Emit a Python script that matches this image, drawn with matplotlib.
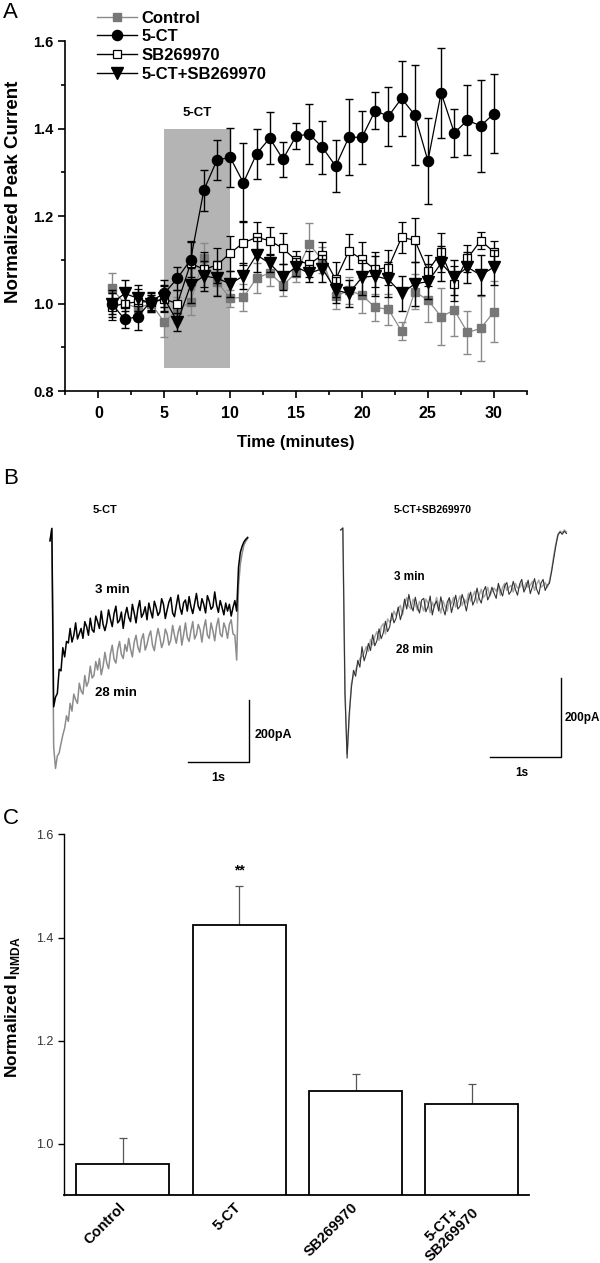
import numpy as np
import matplotlib.pyplot as plt
from matplotlib.lines import Line2D
from matplotlib.patches import Rectangle
from matplotlib.ticker import AutoMinorLocator, MultipleLocator

plt.rcParams['font.family'] = ['Liberation Sans', 'DejaVu Sans']
plt.rcParams['font.weight'] = 'bold'
plt.rcParams['axes.labelweight'] = 'bold'
plt.rcParams['mathtext.fontset'] = 'custom'
plt.rcParams['mathtext.rm'] = 'Liberation Sans:bold'
plt.rcParams['mathtext.bf'] = 'Liberation Sans:bold'

############## Panel A: normalized peak current over time ##############
minutes = list(range(1, 31))
control = [1.035, 1.00, 0.99, 1.00, 0.958, 0.985, 1.004, 1.103, 1.050, 1.012,
           1.014, 1.058, 1.07, 1.042, 1.07, 1.136, 1.099, 1.017, 1.03, 1.019,
           0.991, 0.987, 0.937, 1.027, 1.008, 0.970, 0.985, 0.934, 0.943, 0.981]
control_err = [0.035, 0.03, 0.03, 0.02, 0.035, 0.03, 0.03, 0.035, 0.03, 0.02,
               0.03, 0.035, 0.03, 0.025, 0.02, 0.048, 0.03, 0.03, 0.03, 0.04,
               0.03, 0.035, 0.02, 0.04, 0.05, 0.065, 0.06, 0.05, 0.075, 0.07]
ct = [1.00, 0.964, 0.970, 1.006, 1.023, 1.058, 1.10, 1.259, 1.328, 1.334,
      1.276, 1.342, 1.378, 1.330, 1.383, 1.387, 1.357, 1.314, 1.380, 1.380,
      1.441, 1.428, 1.469, 1.431, 1.326, 1.482, 1.390, 1.419, 1.406, 1.434]
ct_err = [0.03, 0.02, 0.03, 0.02, 0.03, 0.026, 0.04, 0.047, 0.046, 0.068,
          0.09, 0.058, 0.06, 0.04, 0.03, 0.068, 0.06, 0.06, 0.087, 0.06,
          0.043, 0.068, 0.086, 0.114, 0.098, 0.103, 0.055, 0.08, 0.105, 0.09]
sb = [0.993, 1.00, 1.004, 1.004, 1.01, 1.00, 1.092, 1.078, 1.088, 1.115,
      1.139, 1.151, 1.144, 1.126, 1.099, 1.090, 1.111, 1.055, 1.120, 1.101,
      1.078, 1.082, 1.151, 1.145, 1.075, 1.117, 1.045, 1.103, 1.144, 1.118]
sb_err = [0.03, 0.03, 0.03, 0.02, 0.03, 0.03, 0.05, 0.04, 0.04, 0.04,
          0.05, 0.035, 0.03, 0.035, 0.02, 0.03, 0.03, 0.04, 0.04, 0.04,
          0.04, 0.04, 0.036, 0.05, 0.035, 0.045, 0.04, 0.03, 0.02, 0.025]
ct_sb = [1.00, 1.023, 1.012, 1.00, 1.012, 0.958, 1.042, 1.063, 1.058, 1.045,
         1.063, 1.111, 1.092, 1.060, 1.084, 1.069, 1.080, 1.031, 1.023, 1.060,
         1.063, 1.055, 1.023, 1.045, 1.050, 1.092, 1.060, 1.083, 1.065, 1.083]
ct_sb_err = [0.025, 0.03, 0.03, 0.02, 0.03, 0.02, 0.04, 0.035, 0.04, 0.03,
             0.03, 0.04, 0.02, 0.03, 0.02, 0.02, 0.03, 0.03, 0.03, 0.04,
             0.045, 0.04, 0.04, 0.05, 0.04, 0.04, 0.04, 0.035, 0.045, 0.04]
drug_on, drug_off = 5, 10   # 5-CT application window (min)

############## Panel B: example NMDA currents (pA), sampled every trace_dt s ##############
trace_dt = 0.03
ct_3min = [-35, 5, -571, -540, -528, -450, -455, -380, -410, -360, -365, -318,
           -362, -340, -300, -352, -335, -318, -350, -296, -312, -340, -285, -322,
           -330, -278, -296, -318, -262, -305, -325, -300, -258, -288, -312, -270,
           -246, -300, -292, -265, -318, -275, -250, -282, -296, -240, -268, -300,
           -255, -228, -282, -270, -248, -290, -236, -262, -284, -230, -250, -276,
           -265, -222, -240, -286, -258, -232, -218, -268, -280, -244, -210, -250,
           -272, -235, -226, -262, -215, -248, -270, -238, -205, -246, -260, -222,
           -240, -268, -212, -230, -256, -248, -200, -242, -266, -228, -250, -274,
           -236, -262, -240, -278, -250, -228, -262, -120, -72, -52, -38, -30, -24]
ct_28min = [-35, 5, -700, -770, -730, -720, -690, -662, -640, -600, -618, -560,
            -585, -530, -548, -560, -495, -520, -530, -470, -505, -490, -440, -478,
            -470, -425, -452, -415, -468, -440, -395, -430, -448, -400, -372, -418,
            -430, -385, -360, -402, -415, -370, -392, -350, -385, -410, -362, -340,
            -378, -395, -352, -335, -388, -370, -342, -326, -372, -390, -350, -318,
            -345, -380, -362, -320, -336, -372, -355, -308, -340, -366, -330, -310,
            -372, -338, -300, -346, -360, -325, -296, -352, -338, -305, -322, -362,
            -318, -290, -340, -350, -300, -326, -358, -310, -285, -336, -345, -300,
            -318, -350, -305, -290, -336, -340, -420, -180, -110, -75, -48, -36, -28]
ctsb_3min = [-5, 0, -420, -582, -470, -405, -360, -375, -335, -352, -300, -336,
             -318, -292, -310, -270, -298, -285, -255, -280, -265, -236, -262, -250,
             -215, -240, -228, -200, -232, -212, -180, -205, -168, -196, -210, -175,
             -200, -215, -182, -178, -212, -198, -172, -220, -195, -185, -210, -174,
             -202, -220, -188, -176, -214, -192, -170, -205, -198, -168, -186, -210,
             -180, -162, -195, -182, -152, -178, -190, -160, -148, -182, -170, -150,
             -165, -178, -140, -158, -172, -146, -138, -168, -160, -135, -155, -170,
             -142, -130, -162, -150, -132, -166, -148, -128, -155, -168, -140, -130,
             -158, -145, -140, -110, -78, -45, -18, -10, -16, -8, -14]
ctsb_28min = [-5, 0, -410, -570, -480, -395, -372, -360, -345, -330, -325, -315,
              -300, -312, -282, -296, -275, -262, -284, -250, -242, -268, -230, -238,
              -232, -210, -222, -205, -196, -220, -192, -176, -198, -205, -180, -192,
              -208, -186, -196, -210, -180, -190, -214, -188, -200, -176, -196, -215,
              -184, -198, -210, -180, -192, -175, -200, -188, -172, -196, -180, -190,
              -165, -185, -172, -160, -190, -170, -155, -176, -168, -150, -172, -160,
              -152, -160, -148, -170, -150, -140, -158, -150, -145, -162, -140, -152,
              -150, -140, -155, -138, -150, -145, -135, -158, -142, -132, -150, -145,
              -138, -150, -134, -108, -70, -40, -15, -8, -12, -5, -10]
bar_s, bar_pA = 1.0, 200

############## Panel C: summary ##############
groups = ['Control', '5-CT', 'SB269970', '5-CT+\nSB269970']
inmda_mean = [0.96, 1.425, 1.102, 1.077]
inmda_sem = [0.052, 0.075, 0.034, 0.038]


def main():
    fig = plt.figure(figsize=(6, 12.63), dpi=100)

    # ---------------- A ----------------
    axA = fig.add_axes([0.109, 0.6904, 0.769, 0.2771])
    axA.add_patch(Rectangle((drug_on, 0.853), drug_off - drug_on, 1.4 - 0.853,
                            facecolor='#b4b4b4', edgecolor='none', zorder=0))
    axA.text((drug_on + drug_off) / 2, 1.435, '5-CT', ha='center', va='center', fontsize=9.5)

    styles = [
        (control, control_err, 'Control', dict(marker='s', color='#8a8a8a', mfc='#777777', mec='#777777', ms=5.5), 2),
        (ct, ct_err, '5-CT', dict(marker='o', color='black', mfc='black', mec='black', ms=7.3), 5),
        (sb, sb_err, 'SB269970', dict(marker='s', color='black', mfc='white', mec='black', ms=6, mew=0.9), 3),
        (ct_sb, ct_sb_err, '5-CT+SB269970', dict(marker='v', color='black', mfc='black', mec='black', ms=9), 4),
    ]
    handles = []
    for vals, err, lab, st, z in styles:
        axA.errorbar(minutes, vals, yerr=err, lw=0.9, elinewidth=1.0, capsize=3, capthick=1.0,
                     ecolor=st['color'], zorder=z, **st)
        handles.append(Line2D([], [], lw=1.0, **st))
    axA.legend(handles, [s[2] for s in styles], loc='upper left', bbox_to_anchor=(0.068, 1.087),
               frameon=False, fontsize=12, handlelength=2.4, handletextpad=0.3,
               labelspacing=0.22, borderpad=0, borderaxespad=0)

    axA.set_xlim(-2.5, 32.5)
    axA.set_ylim(0.8, 1.6)
    axA.set_xticks(range(0, 31, 5))
    axA.set_yticks([0.8, 1.0, 1.2, 1.4, 1.6])
    axA.xaxis.set_minor_locator(MultipleLocator(2.5))
    axA.yaxis.set_minor_locator(AutoMinorLocator(2))
    axA.spines['top'].set_visible(False)
    axA.spines['right'].set_visible(False)
    axA.spines['left'].set_linewidth(1.2)
    axA.spines['bottom'].set_linewidth(1.2)
    axA.tick_params(which='major', direction='out', length=5, width=1.2)
    axA.tick_params(which='minor', direction='out', length=3, width=1.2)
    axA.tick_params(axis='x', labelsize=11.5, pad=6)
    axA.tick_params(axis='y', labelsize=10.5)
    axA.set_xlabel('Time (minutes)', fontsize=12, labelpad=10)
    axA.set_ylabel('Normalized Peak Current', fontsize=13.5)
    axA.yaxis.set_label_coords(-0.094, 0.57)

    # ---------------- B ----------------
    axB1 = fig.add_axes([0.05, 0.3666, 0.4667, 0.2454])
    t = np.arange(len(ct_28min)) * trace_dt
    axB1.plot(t, ct_28min, color='#8c8c8c', lw=1.1)
    t = np.arange(len(ct_3min)) * trace_dt
    axB1.plot(t, ct_3min, color='black', lw=1.1)
    axB1.set_xlim(-0.328, 4.262)
    axB1.set_ylim(-872, 129)
    axB1.plot([2.262, 2.262 + bar_s, 2.262 + bar_s], [-749, -749, -749 + bar_pA], color='black', lw=1)
    axB1.text(0.90, 65, '5-CT', ha='center', va='center', fontsize=8)
    axB1.text(0.74, -194, '3 min', ha='left', va='center', fontsize=9.5)
    axB1.text(0.74, -526, '28 min', ha='left', va='center', fontsize=9.5)
    axB1.text(3.36, -662, '200pA', ha='left', va='center', fontsize=9)
    axB1.text(2.75, -801, '1s', ha='center', va='center', fontsize=9)
    axB1.axis('off')

    axB2 = fig.add_axes([0.5333, 0.3666, 0.4667, 0.2454])
    t = np.arange(len(ctsb_28min)) * trace_dt
    axB2.plot(t, ctsb_28min, color='#a8a8a8', lw=1.1)
    t = np.arange(len(ctsb_3min)) * trace_dt
    axB2.plot(t, ctsb_3min, color='#333333', lw=0.8)
    axB2.set_xlim(-0.292, 3.652)
    axB2.set_ylim(-688, 96)
    axB2.plot([2.103, 2.103 + bar_s, 2.103 + bar_s], [-579, -579, -579 + bar_pA], color='black', lw=1)
    axB2.text(1.29, 45, '5-CT+SB269970', ha='center', va='center', fontsize=7.5)
    axB2.text(0.75, -124, '3 min', ha='left', va='center', fontsize=8.5)
    axB2.text(0.78, -309, '28 min', ha='left', va='center', fontsize=8.5)
    axB2.text(3.16, -481, '200pA', ha='left', va='center', fontsize=8.5)
    axB2.text(2.55, -620, '1s', ha='center', va='center', fontsize=8.5)
    axB2.axis('off')

    # ---------------- C ----------------
    axC = fig.add_axes([0.106, 0.0536, 0.7755, 0.2857])
    x = np.arange(len(groups))
    axC.bar(x, inmda_mean, width=0.8, color='white', edgecolor='black', linewidth=1.3, zorder=2)
    axC.errorbar(x, inmda_mean, yerr=[np.zeros(len(x)), inmda_sem], fmt='none', ecolor='#555555',
                 elinewidth=0.9, capsize=3, capthick=0.9, zorder=1)
    axC.text(x[1], inmda_mean[1] + inmda_sem[1] + 0.03, '**', ha='center', va='center', fontsize=10)
    axC.set_xlim(-0.51, 3.49)
    axC.set_ylim(0.9, 1.6)
    axC.set_yticks([1.0, 1.2, 1.4, 1.6])
    axC.set_xticks(x)
    axC.set_xticklabels(groups, rotation=45, ha='right', va='center', rotation_mode='anchor',
                        fontsize=10.5, multialignment='center', linespacing=1.0)
    for lab in axC.get_yticklabels():
        lab.set_fontweight('normal')
        lab.set_color('#333333')
    axC.tick_params(axis='y', direction='out', length=4, width=1, labelsize=9)
    axC.tick_params(axis='x', length=0, pad=7)
    axC.spines['top'].set_visible(False)
    axC.spines['right'].set_visible(False)
    axC.spines['left'].set_linewidth(1)
    axC.spines['bottom'].set_linewidth(1.3)
    axC.set_ylabel(r'Normalized I$_{\mathregular{NMDA}}$', fontsize=12.5)
    axC.yaxis.set_label_coords(-0.089, 0.52)

    # panel letters
    fig.text(0.005, 1 - 12.5 / 1263, 'A', fontsize=16, fontweight='normal', va='center')
    fig.text(0.005, 1 - 478 / 1263, 'B', fontsize=16, fontweight='normal', va='center')
    fig.text(0.005, 1 - 818 / 1263, 'C', fontsize=16, fontweight='normal', va='center')

    fig.savefig('out.png', dpi=100)


if __name__ == '__main__':
    main()
